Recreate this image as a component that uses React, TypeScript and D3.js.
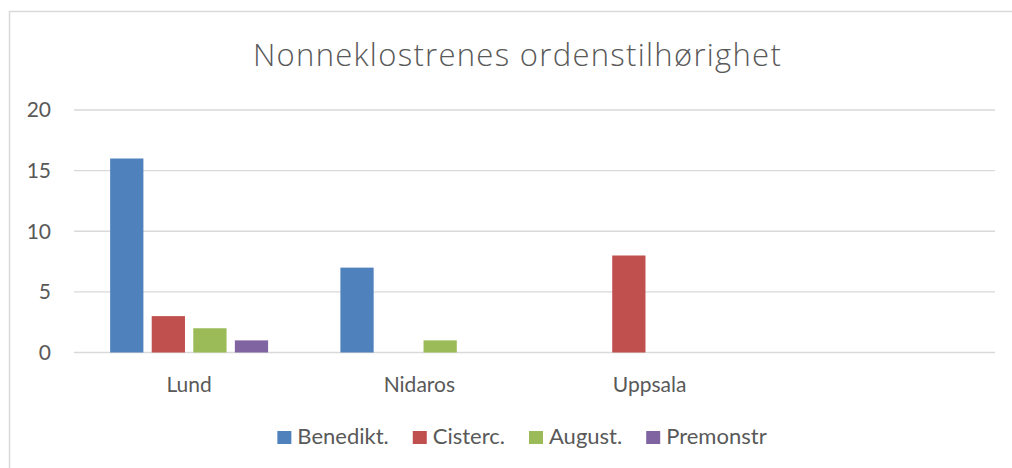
import React, { useEffect, useRef } from 'react';
import * as d3 from 'd3';

// 数据
const categories = ['Lund', 'Nidaros', 'Uppsala', ''];
const seriesNames = ['Benedikt.', 'Cisterc.', 'August.', 'Premonstr'];
const benedikt = [16, 7, null, null];
const cisterc = [3, null, 8, null];
const august = [2, 1, null, null];
const premonstr = [1, null, null, null];
const yTicks = [0, 5, 10, 15, 20];
const colors = ['#4F81BD', '#C0504D', '#9BBB59', '#8064A2'];
const title = 'Nonneklostrenes ordenstilhørighet';

const W = 1012;
const H = 468;
const FONT = 'Lato, Carlito, Calibri, sans-serif';
const TEXT = '#595959';

const App: React.FC = () => {
  const ref = useRef<SVGSVGElement>(null);

  useEffect(() => {
    const svg = d3.select(ref.current);
    svg.selectAll('*').remove();

    const series = [benedikt, cisterc, august, premonstr];
    const plot = { left: 74, right: 995, top: 110, bottom: 352.5 };

    // 外框
    svg.append('rect')
      .attr('x', 9.5).attr('y', 11.5)
      .attr('width', W + 20).attr('height', H + 20)
      .attr('fill', '#fff').attr('stroke', '#D9D9D9').attr('stroke-width', 1.5);

    // 标题
    svg.append('text')
      .attr('x', 517.5).attr('y', 65.5)
      .attr('text-anchor', 'middle')
      .attr('font-family', '"Open Sans", sans-serif').attr('font-size', 31)
      .attr('font-weight', 300)
      .attr('letter-spacing', 1.3)
      .attr('fill', TEXT)
      .text(title);

    const x0 = d3.scaleBand<string>()
      .domain(categories.map((c, i) => String(i)))
      .range([plot.left, plot.right])
      .paddingInner(0.314)
      .paddingOuter(0.157);
    const x1 = d3.scaleBand<string>()
      .domain(seriesNames)
      .range([0, x0.bandwidth()])
      .paddingInner(0.2);
    const y = d3.scaleLinear().domain([0, 20]).range([plot.bottom, plot.top]);

    // 网格线
    svg.append('g').selectAll('line').data(yTicks).join('line')
      .attr('x1', plot.left).attr('x2', plot.right)
      .attr('y1', d => y(d)).attr('y2', d => y(d))
      .attr('stroke', '#D9D9D9').attr('stroke-width', 1.3);

    // y 轴标签
    svg.append('g').selectAll('text').data(yTicks).join('text')
      .attr('x', 51).attr('y', d => y(d))
      .attr('dy', '0.35em')
      .attr('text-anchor', 'end')
      .attr('font-family', FONT).attr('font-size', 21)
      .attr('fill', TEXT)
      .text(d => d);

    // 柱子
    series.forEach((vals, si) => {
      svg.append('g').selectAll('rect')
        .data(vals.map((v, ci) => ({ v, ci })).filter(d => d.v != null))
        .join('rect')
        .attr('x', d => (x0(String(d.ci)) as number) + (x1(seriesNames[si]) as number))
        .attr('width', x1.bandwidth())
        .attr('y', d => y(d.v as number))
        .attr('height', d => y(0) - y(d.v as number))
        .attr('fill', colors[si]);
    });

    // x 轴标签
    svg.append('g').selectAll('text').data(categories).join('text')
      .attr('x', (d, i) => (x0(String(i)) as number) + x0.bandwidth() / 2)
      .attr('y', 391.5)
      .attr('text-anchor', 'middle')
      .attr('font-family', FONT).attr('font-size', 21)
      .attr('fill', TEXT)
      .text(d => d);

    // 图例
    const legend = svg.append('g');
    const sw = 14;
    const items = seriesNames.map((name, i) => {
      const g = legend.append('g');
      g.append('rect').attr('width', sw).attr('height', 13).attr('y', -13).attr('fill', colors[i]);
      const t = g.append('text')
        .attr('x', sw + 6).attr('y', 0)
        .attr('font-family', FONT).attr('font-size', 22)
        .attr('fill', TEXT)
        .text(name);
      const w = (t.node() as SVGTextElement).getComputedTextLength();
      return { g, w: sw + 6 + w };
    });
    const gap = 24;
    const total = d3.sum(items, d => d.w) + gap * (items.length - 1);
    let cx = 522 - total / 2;
    items.forEach(it => {
      it.g.attr('transform', `translate(${cx},444)`);
      cx += it.w + gap;
    });
  }, []);

  return (
    <svg
      ref={ref}
      width={W}
      height={H}
      style={{ position: 'absolute', left: 0, top: 0, display: 'block', background: '#fff' }}
    />
  );
};

export default App;
